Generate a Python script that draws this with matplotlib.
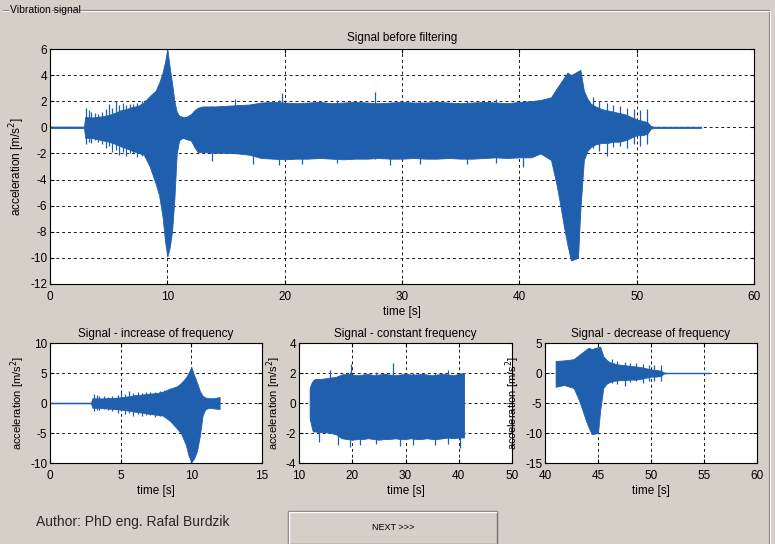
#!/usr/bin/env python3
"""
Vibration signal GUI view: full signal and three segments.
"""

import numpy as np
import matplotlib.pyplot as plt
from matplotlib.lines import Line2D
from matplotlib.patches import Rectangle

# envelope knots of the recorded signal (time [s], acceleration [m/s^2])
t_env = [0, 2.9, 3.0, 3.5, 4.0, 4.5, 5.0, 5.5, 6.0, 6.5, 7.0, 7.5, 8.0, 8.5,
         9.0, 9.3, 9.6, 9.8, 10.0, 10.2, 10.4, 10.6, 10.8, 11.0, 11.3, 11.6,
         12.0, 12.3, 12.6,
         13, 14, 15, 16, 17, 18, 19, 20, 21, 22, 23, 24, 25, 26, 27, 28, 29,
         30, 31, 32, 33, 34, 35, 36, 37, 38, 39, 40, 41,
         41.8, 42.7, 43.2, 43.5, 43.8, 44.1, 44.4, 45.0, 45.2, 45.5, 45.8,
         46.1, 46.5, 47.0, 47.5, 48.0, 48.5, 49.0, 49.5, 50.0, 50.5, 50.9,
         51.2, 51.5, 55.5]
upper_env = [0.06, 0.06, 0.8, 0.75, 0.8, 0.85, 0.95, 1.1, 1.3, 1.4, 1.55, 1.65, 1.9, 2.4,
             2.8, 3.4, 4.2, 5.0, 6.0, 4.6, 3.4, 2.0, 1.2, 0.9, 0.8, 0.8,
             1.0, 1.3, 1.5,
             1.6, 1.6, 1.65, 1.7, 1.75, 1.9, 1.95, 1.9, 1.85, 1.9, 1.95, 1.85, 1.9,
             1.95, 1.9, 1.85, 1.9, 1.95, 1.9, 1.9, 1.95, 1.9, 1.85, 1.9, 1.95, 1.9,
             1.85, 1.95, 2.0,
             2.1, 2.3, 3.0, 3.4, 3.8, 4.2, 4.0, 4.3, 4.4, 2.8, 2.2,
             1.8, 1.6, 1.4, 1.3, 1.2, 1.1, 1.0, 0.8, 0.6, 0.5, 0.4,
             0.1, 0.05, 0.05]
lower_env = [-0.06, -0.06, -0.8, -0.8, -0.9, -1.0, -1.1, -1.25, -1.45, -1.6, -1.8, -1.95, -2.1, -3.0,
             -4.3, -5.2, -6.9, -8.7, -9.9, -9.2, -8.0, -5.5, -2.0, -1.0, -0.8, -0.9,
             -1.0, -1.5, -1.9,
             -1.9, -1.95, -1.95, -2.0, -2.1, -2.35, -2.4, -2.45, -2.4, -2.4, -2.35,
             -2.4, -2.45, -2.4, -2.4, -2.35, -2.4, -2.4, -2.35, -2.4, -2.4, -2.35,
             -2.4, -2.4, -2.35, -2.3, -2.35, -2.3, -2.3,
             -2.0, -2.5, -4.5, -6.0, -7.6, -9.0, -10.2, -10.0, -6.3, -2.5, -1.8,
             -1.5, -1.3, -1.2, -1.2, -1.1, -1.1, -1.0, -0.8, -0.6, -0.6, -0.5,
             -0.1, -0.05, -0.05]

# single strong oscillation peaks sticking out of the envelope
spike_t = [3.1, 3.3, 3.5, 3.8, 4.1, 4.4, 4.8, 5.0, 5.3, 5.6, 5.9, 6.2, 6.5,
           6.8, 7.1, 7.4, 7.8, 8.1, 8.4,
           13.8, 15.8, 17.3, 19.5, 19.8, 21.5, 24.5, 27.7, 29.0, 31.5, 35.5,
           38.0, 40.3,
           46.3, 46.8, 47.5, 48.0, 48.6, 49.2, 49.8, 50.3, 50.9]
spike_hi = [1.5, 1.3, 1.2, 1.1, 1.0, 1.2, 1.4, 1.8, 1.5, 2.0, 1.7, 1.9, 1.7,
            1.8, 1.8, 1.9, 2.0, 2.1, 2.3,
            1.6, 2.2, 1.8, 2.1, 2.6, 1.9, 2.1, 2.7, 1.9, 2.0, 2.0,
            2.2, 2.0,
            2.3, 2.0, 1.9, 1.7, 1.6, 1.5, 1.4, 1.3, 1.4]
spike_lo = [-1.3, -1.1, -1.2, -1.0, -1.1, -1.3, -1.6, -1.4, -1.9, -1.7, -2.1, -1.9, -2.2,
            -2.0, -2.0, -2.3, -2.2, -2.3, -2.4,
            -2.6, -2.0, -2.8, -2.9, -2.4, -2.8, -2.7, -2.4, -2.85, -2.8, -2.8,
            -2.7, -3.0,
            -1.6, -1.8, -2.2, -1.5, -1.4, -1.6, -1.3, -1.4, -1.3]

# segment limits used for the three lower plots
seg_titles = ['Signal - increase of frequency', 'Signal - constant frequency',
              'Signal - decrease of frequency']
seg_ranges = [(0, 12), (12, 41), (41, 55.5)]
seg_xlim = [(0, 15), (10, 50), (40, 60)]
seg_xticks = [[0, 5, 10, 15], [10, 20, 30, 40, 50], [40, 45, 50, 55, 60]]
seg_ylim = [(-10, 10), (-4, 4), (-15, 5)]
seg_yticks = [[-10, -5, 0, 5, 10], [-4, -2, 0, 2, 4], [-15, -10, -5, 0, 5]]

BG = '#d4d0c8'
BLUE = '#1f5fae'
W, H = 775, 544

plt.rcParams['font.family'] = ['Liberation Sans', 'DejaVu Sans']
plt.rcParams['axes.unicode_minus'] = False

fig = plt.figure(figsize=(W / 100, H / 100), dpi=100, facecolor=BG)


def box(x0, y0, x1, y1):
    """pixel box (top-left origin) -> figure fraction rect"""
    return [x0 / W, 1 - y1 / H, (x1 - x0) / W, (y1 - y0) / H]


def draw_signal(ax, tmin, tmax):
    t = np.array(t_env)
    up = np.array(upper_env)
    lo = np.array(lower_env)
    m = (t >= tmin) & (t <= tmax)
    ax.fill_between(t[m], lo[m], up[m], color=BLUE, lw=0.6, zorder=2)
    st = np.array(spike_t)
    sm = (st >= tmin) & (st <= tmax)
    ax.vlines(st[sm], np.array(spike_lo)[sm], np.array(spike_hi)[sm],
              color=BLUE, lw=0.9, zorder=2)


def style(ax, xlim, xticks, ylim, yticks):
    ax.set_xlim(*xlim)
    ax.set_ylim(*ylim)
    ax.set_xticks(xticks)
    ax.set_yticks(yticks)
    ax.set_axisbelow(True)
    ax.grid(True, color='0.1', ls=(0, (3, 3)), lw=0.7)
    ax.tick_params(direction='in', length=3, labelsize=8.5, pad=2,
                   top=True, right=True, colors='black')
    ax.tick_params(axis='x', pad=5)
    for s in ax.spines.values():
        s.set_linewidth(0.8)
    ax.set_xlabel('time [s]', fontsize=8.5, labelpad=2)
    ax.set_ylabel('acceleration [m/s$^2$]', fontsize=8.5, labelpad=2)


# panel frame (etched)
for off, col in [(0, '0.5'), (1, 'white')]:
    fig.add_artist(Line2D([(52 + off) / W, (769 + off) / W], [1 - (10 + off) / H] * 2,
                          transform=fig.transFigure, color=col, lw=0.8))
    fig.add_artist(Line2D([(769 + off) / W] * 2, [1 - (10 + off) / H, 0],
                          transform=fig.transFigure, color=col, lw=0.8))
    fig.add_artist(Line2D([3 / W, 8 / W], [1 - (10 + off) / H] * 2,
                          transform=fig.transFigure, color=col, lw=0.8))
fig.text(10 / W, 1 - 10 / H, 'Vibration signal', fontsize=7.5, va='center', ha='left')

# full signal
ax = fig.add_axes(box(50, 49, 754, 284))
draw_signal(ax, 0, 60)
style(ax, (0, 60), range(0, 61, 10), (-12, 6), range(-12, 7, 2))
ax.set_title('Signal before filtering', fontsize=8.5, pad=6)

# segments
seg_px = [(50, 262), (299, 512), (545, 757)]
for i in range(3):
    a = fig.add_axes(box(seg_px[i][0], 343, seg_px[i][1], 463))
    draw_signal(a, *seg_ranges[i])
    style(a, seg_xlim[i], seg_xticks[i], seg_ylim[i], seg_yticks[i])
    a.set_title(seg_titles[i], fontsize=8.5, pad=4)
    a.yaxis.label.set_fontsize(8)

fig.text(36 / W, 1 - 522 / H, 'Author: PhD eng. Rafal Burdzik', fontsize=10,
         va='center', ha='left', color='0.15')

# NEXT button
fig.add_artist(Rectangle((288 / W, 0), (497 - 288) / W, (544 - 511) / H,
                         transform=fig.transFigure, facecolor=BG,
                         edgecolor='0.45', lw=1.0))
fig.add_artist(Line2D([289 / W, 496 / W], [1 - 512 / H] * 2,
                      transform=fig.transFigure, color='white', lw=1.0))
fig.add_artist(Line2D([289 / W] * 2, [1 - 512 / H, 0],
                      transform=fig.transFigure, color='white', lw=1.0))
fig.text(393 / W, 1 - 527 / H, 'NEXT >>>', fontsize=6.5, ha='center', va='center')

plt.savefig('out.png', dpi=100, facecolor=BG)
